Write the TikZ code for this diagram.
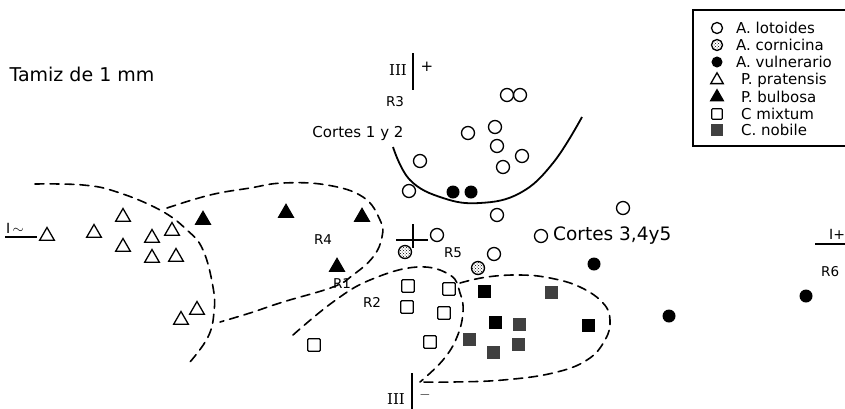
\documentclass[tikz,border=0pt]{standalone}
\usepackage{fontspec}
\setmainfont{DejaVu Sans}
\newfontfamily\romfont{DejaVu Serif}
\usetikzlibrary{shapes.geometric,patterns}

\tikzset{
  lot/.style={circle,draw,line width=1.3pt,minimum size=13pt,inner sep=0pt},
  cor/.style={lot,pattern=crosshatch dots},
  vul/.style={circle,fill=black,minimum size=13pt,inner sep=0pt},
  pra/.style={regular polygon,regular polygon sides=3,draw,line width=1.3pt,minimum size=17pt,inner sep=0pt},
  bul/.style={pra,fill=black},
  mix/.style={rectangle,draw,line width=1.2pt,rounded corners=1pt,minimum size=12.5pt,inner sep=0pt},
  nob/.style={rectangle,fill=black!75,minimum size=13pt,inner sep=0pt},
  nobk/.style={nob,fill=black},
  region/.style={line width=1.6pt,dash pattern=on 9pt off 6pt,line cap=round},
  axisline/.style={line width=1.2pt},
  lbl/.style={font=\fontsize{13.5}{15}\selectfont,inner sep=0pt},
  bigtxt/.style={font=\fontsize{15}{17}\selectfont,inner sep=0pt},
  romtxt/.style={inner sep=0pt,font=\romfont\fontsize{15}{17}\selectfont},
  legtxt/.style={font=\fontsize{15}{17}\selectfont,inner sep=0pt,anchor=west},
}

\begin{document}
\begin{tikzpicture}[x=1pt,y=-1pt]
  \useasboundingbox (0,0) rectangle (845,408);

  %%%%% texts %%%%%
  \node[font=\fontsize{19}{21}\selectfont,inner sep=0pt] (tamiz) at (82,74) {Tamiz de 1 mm};
  \node[bigtxt] (cortesA) at (358,133) {Cortes 1 y 2};
  \node[bigtxt,anchor=west,font=\fontsize{18.5}{20}\selectfont] (cortesB) at (553,236) {Cortes 3,4y5};

  \node[lbl] (r1) at (342,284) {R1};
  \node[lbl] (r2) at (372,302) {R2};
  \node[lbl] (r3) at (395,102) {R3};
  \node[lbl] (r4) at (323,240) {R4};
  \node[lbl] (r5) at (453,253) {R5};
  \node[lbl,anchor=west] (r6) at (821,272) {R6};

  %%%%% axes %%%%%
  \node[romtxt] (iiitop) at (398,70) {III};
  \node[inner sep=0pt,font=\fontsize{15}{16}\selectfont] (plustop) at (427,67) {+};
  \draw[axisline] (413,53) -- (413,90);

  \node[romtxt] (iiibot) at (396,399) {III};
  \node[inner sep=0pt,font=\fontsize{15}{16}\selectfont] (minbot) at (425,395) {$-$};
  \draw[axisline] (412,373) -- (412,412);

  \node[inner sep=0pt,font=\fontsize{14}{16}\selectfont] (ileft) at (15,228) {I\,$\sim$};
  \draw[axisline] (5,237) -- (37,237);
  \node[inner sep=0pt,font=\fontsize{14}{16}\selectfont,anchor=west] (iright) at (829,234) {I+};
  \draw[axisline] (815,244) -- (848,244);

  % origin cross
  \draw[axisline] (396,240) -- (428,240);
  \draw[axisline] (413,224) -- (413,248);

  %%%%% regions %%%%%
  \draw[line width=1.8pt] plot[smooth,tension=0.7] coordinates
    {(393,147) (410,180) (443,198) (480,203) (520,193) (553,163) (582,117)};

  \draw[region] plot[smooth,tension=0.7] coordinates
    {(35,184) (83,185) (117,192) (160,210) (187,230) (203,250) (213,287)
     (214,312) (208,337) (190,362)};
  \draw[region] plot[smooth,tension=0.7] coordinates
    {(167,208) (210,195) (250,188) (283,183) (327,185) (363,197) (380,220)
     (382,237) (373,257) (353,275) (333,287) (283,302) (250,313) (220,322)};
  \draw[region] plot[smooth,tension=0.7] coordinates
    {(293,335) (333,302) (370,280) (417,267) (450,275) (460,293) (463,312)
     (457,337) (443,360) (420,382)};
  \draw[region] plot[smooth,tension=0.7] coordinates
    {(460,283) (487,277) (520,275) (550,278) (580,287) (603,303) (610,320)
     (605,340) (587,360) (553,373) (503,380) (453,382) (420,382)};

  %%%%% samples %%%%%
  \foreach \x/\y [count=\i] in {507/95,520/95,468/133,495/127,497/146,522/156,
      503/167,420/161,409/191,497/215,623/208,437/235,494/254,541/236}
    \node[lot] (lot\i) at (\x,\y) {};
  \foreach \x/\y [count=\i] in {405/252,478/268}
    \node[cor] (cor\i) at (\x,\y) {};
  \foreach \x/\y [count=\i] in {453/192,471/192,594/264,669/316,806/296}
    \node[vul] (vul\i) at (\x,\y) {};
  \foreach \x/\y [count=\i] in {47/236,94/233,123/217,123/247,152/238,172/231,
      152/258,176/257,181/320,197/310}
    \node[pra] (pra\i) at (\x,\y) {};
  \foreach \x/\y [count=\i] in {203/220,286/213,362/217,337/267}
    \node[bul] (bul\i) at (\x,\y) {};
  \foreach \x/\y [count=\i] in {408/286,407/307,449/289,444/313,430/342,314/345}
    \node[mix] (mix\i) at (\x,\y) {};
  \foreach \x/\y [count=\i] in {551/292,519/324,469/339,518/344,493/352}
    \node[nob] (nob\i) at (\x,\y) {};
  \foreach \x/\y [count=\i] in {484/291,495/322,588/325}
    \node[nobk] (nobk\i) at (\x,\y) {};

  %%%%% legend %%%%%
  \draw[line width=1.2pt] (693,10) rectangle (852,146);
  \foreach \s/\t/\y/\tx [count=\i] in {lot/A. lotoides/28/736,
      cor/A. cornicina/45/736, vul/A. vulnerario/62/736,
      pra/P. pratensis/80/741, bul/P. bulbosa/97/741,
      mix/C mixtum/114/741, nob/C. nobile/130/741}
  {
    \node[\s,scale=0.85] (leg\i) at (717,\y) {};
    \node[legtxt] (legt\i) at (\tx,\y) {\t};
  }
\end{tikzpicture}
\end{document}
